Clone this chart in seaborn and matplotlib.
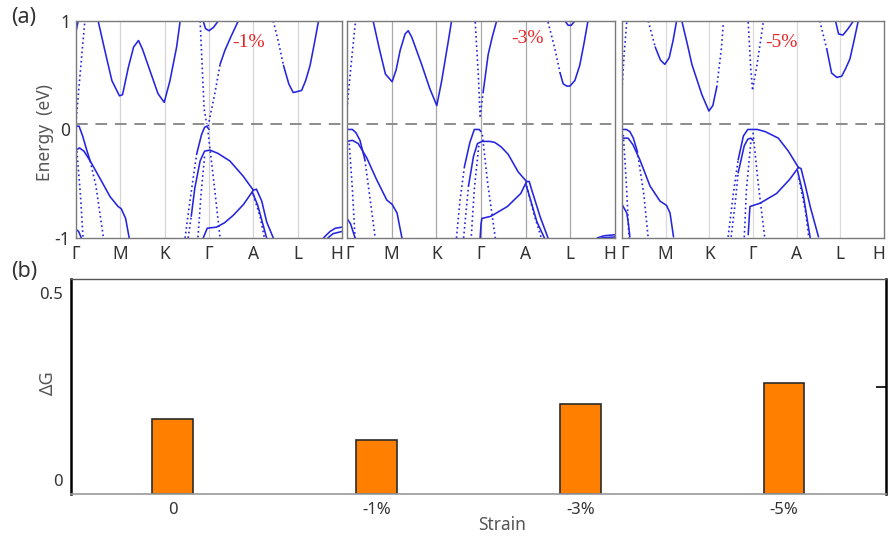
import matplotlib
matplotlib.use("Agg")
import matplotlib.pyplot as plt
from matplotlib.transforms import ScaledTranslation
from matplotlib.ticker import FixedLocator
import numpy as np
import pandas as pd
import seaborn as sns

# ---------------- data ----------------
kpath_labels = ["Γ", "M", "K", "Γ", "A", "L", "H"]
kpath_pos = [0, 1, 2, 3, 4, 5, 6]
strain_panels = ["-1%", "-3%", "-5%"]
fermi_level = 0.05

# band segments: lists of (k, E) ; solid = dense, dot = sparse
p1_solid = [
    [(0.50, 1.0), (0.65, 0.73), (0.81, 0.45), (0.98, 0.31), (1.05, 0.32), (1.18, 0.57), (1.30, 0.76),
     (1.41, 0.82), (1.50, 0.74), (1.67, 0.54), (1.85, 0.33), (1.99, 0.25), (2.12, 0.45), (2.27, 0.76), (2.35, 1.0)],
    [(0.0, -0.19), (0.08, -0.17), (0.18, -0.2), (0.32, -0.29), (0.54, -0.45), (0.77, -0.62), (0.95, -0.71),
     (1.02, -0.73), (1.12, -0.82), (1.2, -1.0)],
    [(0.0, 0.03), (0.07, 0.03), (0.15, -0.06), (0.25, -0.2), (0.32, -0.29)],
    [(0.0, -0.92), (0.06, -0.94), (0.12, -1.0)],
    [(0.0, 0.9), (0.05, 1.0)],
    [(2.72, -0.23), (2.83, -0.05), (2.9, 0.02), (2.95, 0.03), (3.0, 0.0)],
    [(2.6, -0.8), (2.68, -0.54), (2.8, -0.29), (2.9, -0.2), (3.02, -0.19), (3.2, -0.22), (3.47, -0.29),
     (3.77, -0.43), (4.0, -0.56)],
    [(2.87, -1.0), (2.96, -0.91), (3.17, -0.9), (3.35, -0.86), (3.55, -0.79), (3.78, -0.69), (4.0, -0.56)],
    [(4.0, -0.56), (4.07, -0.55), (4.19, -0.66), (4.3, -0.85), (4.45, -1.0)],
    [(3.98, -0.58), (4.1, -0.7), (4.2, -0.85), (4.3, -1.0)],
    [(3.25, 0.6), (3.36, 0.73), (3.5, 0.86), (3.66, 1.0)],
    [(2.87, 1.0), (2.92, 0.93), (3.0, 0.91), (3.1, 0.94), (3.21, 1.0)],
    [(4.68, 0.59), (4.8, 0.42), (4.9, 0.34), (5.0, 0.35), (5.09, 0.36), (5.18, 0.45), (5.28, 0.59),
     (5.38, 0.8), (5.47, 1.0)],
    [(5.58, -1.0), (5.73, -0.94), (5.85, -0.91), (6.0, -0.9)],
    [(5.68, -1.0), (5.8, -0.96), (6.0, -0.94)],
]
p1_dot = [
    [(0.32, -0.29), (0.45, -0.52), (0.62, -1.0)],
    [(0.0, 0.06), (0.08, 0.45), (0.2, 1.0)],
    [(0.02, -0.2), (0.1, -0.6), (0.16, -1.0)],
    [(2.46, -1.0), (2.57, -0.66), (2.72, -0.23)],
    [(2.53, -1.0), (2.6, -0.8)],
    [(4.0, -0.6), (4.15, -0.8), (4.25, -1.0)],
    [(2.98, -0.03), (3.1, -0.45), (3.25, -1.0)],
    [(2.8, 1.0), (2.89, 0.19), (2.95, 0.05)],
    [(2.98, 0.03), (3.02, 0.11), (3.14, 0.35), (3.25, 0.6)],
    [(2.9, -0.25), (2.82, -0.6), (2.75, -1.0)],
    [(4.45, 1.0), (4.57, 0.8), (4.68, 0.59)],
]

p2_solid = [
    [(0.59, 0.99), (0.72, 0.75), (0.86, 0.51), (1.01, 0.44), (1.1, 0.55), (1.19, 0.73), (1.3, 0.88),
     (1.37, 0.91), (1.45, 0.85), (1.67, 0.6), (1.85, 0.38), (2.01, 0.22), (2.12, 0.45), (2.27, 0.82), (2.34, 1.0)],
    [(0.0, -0.11), (0.12, -0.1), (0.25, -0.13), (0.44, -0.26), (0.66, -0.46), (0.89, -0.65), (1.01, -0.69),
     (1.12, -0.77), (1.23, -1.0)],
    [(0.0, 0.0), (0.12, 0.0), (0.2, -0.03), (0.29, -0.1), (0.4, -0.28)],
    [(0.0, -0.82), (0.08, -0.87), (0.18, -1.0)],
    [(2.63, -0.34), (2.75, -0.12), (2.85, 0.0), (2.96, 0.0), (3.0, -0.02)],
    [(2.72, -0.52), (2.83, -0.25), (2.92, -0.13), (3.02, -0.11), (3.2, -0.11), (3.31, -0.12), (3.45, -0.16),
     (3.61, -0.23), (3.83, -0.39), (4.02, -0.48)],
    [(2.98, -1.0), (3.0, -0.87), (3.02, -0.82), (3.22, -0.8), (3.59, -0.71), (3.89, -0.59), (4.02, -0.48)],
    [(4.02, -0.48), (4.08, -0.48), (4.13, -0.55), (4.32, -0.8), (4.5, -1.0)],
    [(4.0, -0.5), (4.06, -0.58), (4.25, -0.85), (4.42, -1.0)],
    [(3.05, 0.35), (3.16, 0.69), (3.25, 0.85), (3.35, 1.0)],
    [(4.77, 0.52), (4.84, 0.42), (4.92, 0.4), (4.99, 0.4), (5.1, 0.45), (5.21, 0.59), (5.3, 0.78), (5.39, 0.99)],
    [(4.88, 1.0), (4.95, 0.96), (5.02, 0.96), (5.1, 1.0)],
    [(5.6, -1.0), (5.75, -0.98), (6.0, -0.97)],
    [(5.7, -1.0), (6.0, -0.99)],
]
p2_dot = [
    [(0.4, -0.28), (0.6, -0.9), (0.63, -1.0)],
    [(0.0, 0.19), (0.08, 0.55), (0.18, 0.96), (0.2, 1.0)],
    [(0.05, -0.13), (0.12, -0.55), (0.18, -1.0)],
    [(2.45, -1.0), (2.53, -0.65), (2.63, -0.34)],
    [(2.61, -1.0), (2.72, -0.52)],
    [(4.02, -0.52), (4.2, -0.8), (4.35, -1.0)],
    [(2.87, 0.99), (2.94, 0.5), (2.98, 0.12)],
    [(2.98, 0.12), (3.05, 0.35)],
    [(3.03, -0.05), (3.15, -0.5), (3.32, -1.0)],
    [(2.95, -0.15), (2.85, -0.55), (2.78, -1.0)],
    [(4.5, 0.99), (4.65, 0.75), (4.77, 0.52)],
]

p3_solid = [
    [(0.76, 0.76), (0.88, 0.64), (0.98, 0.6), (1.08, 0.66), (1.17, 0.82), (1.25, 1.0)],
    [(1.37, 1.0), (1.5, 0.78), (1.6, 0.6), (1.83, 0.32), (1.99, 0.17), (2.08, 0.22), (2.17, 0.39)],
    [(0.0, -0.08), (0.14, -0.08), (0.25, -0.14), (0.41, -0.28), (0.64, -0.52), (0.87, -0.66), (1.02, -0.7),
     (1.1, -0.77), (1.18, -0.99)],
    [(0.0, 0.0), (0.1, 0.0), (0.18, -0.02), (0.26, -0.08), (0.35, -0.2)],
    [(0.0, -0.69), (0.11, -0.77), (0.15, -0.88), (0.18, -0.99)],
    [(2.66, -0.28), (2.78, -0.06), (2.88, 0.0), (2.97, 0.0), (3.1, 0.0), (3.28, -0.02), (3.58, -0.08),
     (3.81, -0.2), (4.04, -0.35)],
    [(2.66, -0.4), (2.8, -0.15), (2.88, -0.09), (2.95, -0.08), (3.0, -0.1)],
    [(2.89, -0.97), (2.93, -0.71), (3.16, -0.68), (3.54, -0.59), (3.84, -0.46), (4.04, -0.35)],
    [(4.04, -0.35), (4.1, -0.36), (4.2, -0.52), (4.31, -0.71), (4.5, -0.99)],
    [(4.02, -0.38), (4.15, -0.6), (4.31, -1.0)],
    [(4.69, 0.74), (4.8, 0.52), (4.92, 0.48), (5.03, 0.49), (5.12, 0.56), (5.22, 0.65), (5.32, 0.83), (5.41, 1.0)],
    [(4.89, 1.0), (4.96, 0.88), (5.06, 0.87), (5.18, 0.93), (5.3, 1.0)],
]
p3_dot = [
    [(0.6, 1.0), (0.76, 0.76)],
    [(2.17, 0.39), (2.28, 0.76), (2.32, 0.98)],
    [(0.35, -0.2), (0.5, -0.6), (0.6, -1.0)],
    [(0.0, 0.37), (0.05, 0.7), (0.11, 1.0)],
    [(0.03, -0.05), (0.1, -0.5), (0.16, -1.0)],
    [(2.43, -0.99), (2.55, -0.59), (2.66, -0.28)],
    [(2.5, -0.99), (2.6, -0.65), (2.66, -0.4)],
    [(4.05, -0.45), (4.2, -0.75), (4.28, -1.0)],
    [(2.89, 0.99), (2.95, 0.55), (2.99, 0.37)],
    [(2.99, 0.37), (3.09, 0.59), (3.24, 1.0)],
    [(3.0, -0.03), (3.12, -0.5), (3.27, -1.0)],
    [(2.95, -0.12), (2.85, -0.55), (2.8, -1.0)],
    [(4.53, 1.0), (4.69, 0.74)],
]

strain_labels = ["0", "-1%", "-3%", "-5%"]
delta_g = [0.174, 0.126, 0.209, 0.259]

# ---------------- build tables ----------------
rows = []
for pi, (solid, dot) in enumerate([(p1_solid, p1_dot), (p2_solid, p2_dot), (p3_solid, p3_dot)]):
    for style, segs in (("solid", solid), ("dot", dot)):
        for si, seg in enumerate(segs):
            for k, e in seg:
                rows.append(dict(panel=pi, style=style, seg=f"{style}{si}", k=k, E=e))
bands = pd.DataFrame(rows)

# ---------------- style ----------------
sns.set_theme(style="white")
plt.rcParams["font.family"] = ["Noto Sans", "DejaVu Sans"]
txt = "#333333"

fig = plt.figure(figsize=(8.96, 5.4), dpi=100)
ax_pos = [(0.0848, 0.5593, 0.2969, 0.4019), (0.3873, 0.5593, 0.2991, 0.4019), (0.6942, 0.5593, 0.2924, 0.4019)]
grid_cols = ["#d4d4d4", "#a8a8a8", "#dadada"]
label_pos = [(0.65, 0.90), (0.675, 0.92), (0.61, 0.90)]
band_col = "#2525e0"

for pi, pos in enumerate(ax_pos):
    ax = fig.add_axes(pos)
    for kk in kpath_pos[1:-1]:
        ax.axvline(kk, color=grid_cols[pi], lw=0.9, zorder=0)
    sub = bands[bands.panel == pi]
    sns.lineplot(data=sub[sub["style"] == "solid"], x="k", y="E", units="seg", estimator=None, sort=False,
                 color=band_col, lw=1.15, ax=ax)
    sns.lineplot(data=sub[sub["style"] == "dot"], x="k", y="E", units="seg", estimator=None, sort=False,
                 color=band_col, lw=1.2, linestyle=(0, (1, 1.8)), ax=ax)
    ax.axhline(fermi_level, color="#8c8c8c", lw=1.4, dashes=(6, 4), zorder=3)
    ax.set_xlim(0, 6)
    ax.set_ylim(-1, 1)
    ax.set_xlabel("")
    ax.set_ylabel("")
    ax.set_xticks(kpath_pos)
    ax.set_xticklabels(kpath_labels, fontsize=12.5, color=txt)
    ax.tick_params(axis="x", length=0, pad=5)
    xl = ax.get_xticklabels()
    xl[-1].set_transform(xl[-1].get_transform() + ScaledTranslation(-5 / 100, 0, fig.dpi_scale_trans))
    if pi > 0:
        xl[0].set_transform(xl[0].get_transform() + ScaledTranslation(3 / 100, 0, fig.dpi_scale_trans))
    ax.set_yticks([-1, -0.5, 0, 0.5, 1])
    if pi == 0:
        ax.set_yticklabels(["-1", "", "0", "", "1"], fontsize=12.5, color=txt)
        for lab, dy in zip(ax.get_yticklabels(), [5, 0, -7, 0, -9]):
            lab.set_transform(lab.get_transform() + ScaledTranslation(0, dy / 100, fig.dpi_scale_trans))
    else:
        ax.set_yticklabels([""] * 5)
    ax.tick_params(axis="y", direction="in", length=2.5, width=0.8, color="#666666", pad=4)
    for sp in ax.spines.values():
        sp.set_color("#7a7a7a")
        sp.set_linewidth(1.0)
    ax.text(label_pos[pi][0], label_pos[pi][1], strain_panels[pi], transform=ax.transAxes, color="#e8262a",
            fontsize=14, family="Liberation Serif", ha="center", va="center")

fig.text(45 / 896, 1 - 133 / 540, "Energy  (eV)", rotation=90, ha="center", va="center", fontsize=12.5, color="#555555")
fig.text(24 / 896, 1 - 18 / 540, "(a)", ha="center", va="center", fontsize=15.5, color=txt)
fig.text(24 / 896, 1 - 272 / 540, "(b)", ha="center", va="center", fontsize=15.5, color=txt)

# ---------------- panel (b) ----------------
axb = fig.add_axes([0.0792, 0.0852, 0.9096, 0.398])
sns.barplot(x=strain_labels, y=delta_g, ax=axb, width=0.2, color="#ff8000", saturation=1,
            edgecolor="#2b2b2b", linewidth=1.2)
axb.set_xlim(-0.5, 3.5)
axb.set_ylim(0, 0.5)
axb.set_xlabel("")
axb.set_ylabel("")
axb.tick_params(axis="x", length=0, pad=6, labelsize=12, labelcolor=txt)
axb.set_yticks([0, 0.5])
axb.set_yticklabels(["0", "0.5"], fontsize=12, color=txt)
axb.tick_params(axis="y", which="major", length=0, pad=6)
for lab, dy in zip(axb.get_yticklabels(), [14, -14]):
    lab.set_transform(lab.get_transform() + ScaledTranslation(0, dy / 100, fig.dpi_scale_trans))
axb.yaxis.set_minor_locator(FixedLocator([0.25]))
axb.tick_params(axis="y", which="minor", left=False, right=True, direction="in", length=7, width=1.2, color="black")
axb.spines["left"].set_color("black")
axb.spines["left"].set_linewidth(1.8)
axb.spines["right"].set_color("black")
axb.spines["right"].set_linewidth(1.8)
axb.spines["top"].set_color("#555555")
axb.spines["top"].set_linewidth(1.0)
axb.spines["bottom"].set_color("#999999")
axb.spines["bottom"].set_linewidth(1.2)

fig.text(502 / 896, 1 - 525 / 540, "Strain", ha="center", va="center", fontsize=12.5, color="#555555")
fig.text(48 / 896, 1 - 383 / 540, "ΔG", rotation=90, ha="center", va="center", fontsize=13, color="#555555")

fig.savefig("out.png", dpi=100)
